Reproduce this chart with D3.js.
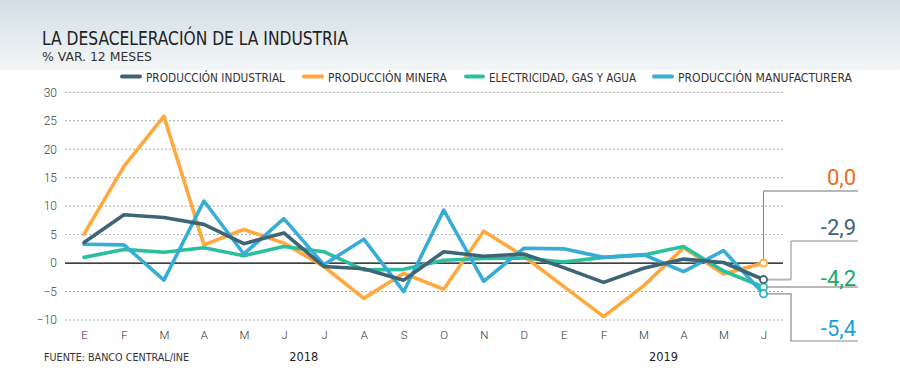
<!DOCTYPE html>
<html>
<head>
<meta charset="utf-8">
<title>La desaceleración de la industria</title>
<script src="https://cdn.jsdelivr.net/npm/d3@7"></script>
<style>
body { margin: 0; background: #fff; }
svg { display: block; font-family: "DejaVu Sans Condensed", Roboto, sans-serif; }
</style>
</head>
<body>
<svg id="chart"></svg>
<script>
// datos: % var. 12 meses, ene 2018 - jun 2019
var months = ["E","F","M","A","M","J","J","A","S","O","N","D","E","F","M","A","M","J"];
var years = ["2018", "2019"];
var yTicks = [30, 25, 20, 15, 10, 5, 0, -5, -10];

var industrial    = [3.6, 8.5, 8.0, 6.8, 3.4, 5.3, -0.6, -1.0, -3.0, 2.0, 1.2, 1.6, -0.8, -3.4, -0.9, 0.7, 0.1, -2.9];
var minera        = [5.1, 17.0, 25.8, 3.2, 5.9, 3.5, -0.6, -6.2, -1.8, -4.6, 5.6, 1.2, -4.1, -9.4, -4.0, 2.7, -1.9, 0.0];
var electricidad  = [1.0, 2.4, 1.9, 2.7, 1.3, 2.9, 2.0, -1.2, -1.1, 0.5, 0.8, 0.9, 0.2, 1.0, 1.4, 2.9, -1.4, -4.2];
var manufacturera = [3.3, 3.2, -3.0, 10.9, 1.6, 7.8, -0.3, 4.2, -5.0, 9.3, -3.2, 2.6, 2.5, 1.0, 1.5, -1.5, 2.2, -5.4];

var seriesNames = ["PRODUCCIÓN INDUSTRIAL", "PRODUCCIÓN MINERA", "ELECTRICIDAD, GAS Y AGUA", "PRODUCCIÓN MANUFACTURERA"];
var seriesValues = [industrial, minera, electricidad, manufacturera];
var lineColors = ["#3d6577", "#ffa83c", "#2bbf9d", "#37acd7"];
var labelColors = ["#3c6478", "#f36b22", "#17a96b", "#18a1d9"];
var lastLabels = ["-2,9", "0,0", "-4,2", "-5,4"];

var w = 900, h = 390;

var svg = d3.select("#chart").attr("width", w).attr("height", h);

// fondo degradado de la cabecera
var defs = svg.append("defs");
var grad = defs.append("linearGradient").attr("id", "head").attr("x1", 0).attr("y1", 0).attr("x2", 0).attr("y2", 1);
grad.append("stop").attr("offset", "0%").attr("stop-color", "#d3dee4");
grad.append("stop").attr("offset", "100%").attr("stop-color", "#f3f6f7");
svg.append("rect").attr("width", w).attr("height", 70).attr("fill", "url(#head)");

// titulo
svg.append("text").attr("x", 42).attr("y", 45)
	.attr("font-size", 19).attr("fill", "#222")
	.attr("textLength", 306).attr("lengthAdjust", "spacingAndGlyphs")
	.text("LA DESACELERACIÓN DE LA INDUSTRIA");
svg.append("text").attr("x", 42).attr("y", 60.5)
	.attr("font-size", 12.5).attr("fill", "#333")
	.attr("textLength", 110).attr("lengthAdjust", "spacingAndGlyphs")
	.text("% VAR. 12 MESES");

// leyenda
var legendPos = [[120, 146, 139], [302, 328, 119], [464, 489, 147], [652, 678, 174]];
var legend = svg.append("g");
seriesNames.forEach(function(name, i) {
	var p = legendPos[i];
	legend.append("line")
		.attr("x1", p[0] + 2).attr("x2", p[1] - 6)
		.attr("y1", 76.5).attr("y2", 76.5)
		.attr("stroke", lineColors[i]).attr("stroke-width", 4).attr("stroke-linecap", "round");
	legend.append("text").attr("x", p[1]).attr("y", 81.5)
		.attr("font-size", 12.5).attr("fill", "#333")
		.attr("textLength", p[2]).attr("lengthAdjust", "spacingAndGlyphs")
		.text(name);
});

// escalas
var x = d3.scaleLinear().domain([0, months.length - 1]).range([84, 763.5]);
var y = d3.scaleLinear().domain([-10, 30]).range([320, 92.3]);

// grilla
var grid = svg.append("g");
grid.selectAll("line").data(yTicks.filter(function(d) { return d !== 0; }))
	.enter().append("line")
	.attr("x1", 65).attr("x2", 783)
	.attr("y1", function(d) { return y(d); }).attr("y2", function(d) { return y(d); })
	.attr("stroke", "#aaa").attr("stroke-width", 1).attr("stroke-dasharray", "2,2");
svg.append("line")
	.attr("x1", 65).attr("x2", 783).attr("y1", y(0)).attr("y2", y(0))
	.attr("stroke", "#000").attr("stroke-width", 1.2);

// eje y
var yAxis = svg.append("g").attr("transform", "translate(57,0)")
	.call(d3.axisLeft(y).tickValues(yTicks).tickSize(0).tickPadding(0));
yAxis.select(".domain").remove();
yAxis.selectAll("text").attr("font-size", 12).attr("fill", "#444")
	.attr("font-family", "Roboto, sans-serif").attr("font-weight", 300);

// eje x
var xAxis = svg.append("g").attr("transform", "translate(0,331)")
	.call(d3.axisBottom(x).tickValues(d3.range(months.length)).tickFormat(function(i) { return months[i]; }).tickSize(0).tickPadding(0));
xAxis.select(".domain").remove();
xAxis.selectAll("text").attr("font-size", 11.5).attr("fill", "#333")
	.attr("font-family", "Roboto, sans-serif").attr("font-weight", 300).attr("dy", "0.71em");

// años
svg.append("text").attr("x", (x(5) + x(6)) / 2).attr("y", 361).attr("text-anchor", "middle")
	.attr("font-size", 13).attr("fill", "#222").attr("textLength", 29).attr("lengthAdjust", "spacingAndGlyphs").text(years[0]);
svg.append("text").attr("x", (x(14) + x(15)) / 2).attr("y", 361).attr("text-anchor", "middle")
	.attr("font-size", 13).attr("fill", "#222").attr("textLength", 29).attr("lengthAdjust", "spacingAndGlyphs").text(years[1]);

// fuente
svg.append("text").attr("x", 44).attr("y", 361)
	.attr("font-size", 10.5).attr("fill", "#333")
	.attr("textLength", 145).attr("lengthAdjust", "spacingAndGlyphs")
	.text("FUENTE: BANCO CENTRAL/INE");

// lineas
var line = d3.line()
	.x(function(d, i) { return x(i); })
	.y(function(d) { return y(d); });

var order = [1, 2, 3, 0];
var lines = svg.append("g");
order.forEach(function(k) {
	lines.append("path").datum(seriesValues[k])
		.attr("d", line)
		.attr("fill", "none")
		.attr("stroke", lineColors[k])
		.attr("stroke-width", 3.6)
		.attr("stroke-linejoin", "round")
		.attr("stroke-linecap", "round");
});

// conectores de anotacion
var last = months.length - 1;
var mx = x(last);
var ann = svg.append("g").attr("fill", "none");
var lightGray = "#b8b8b8", darkGray = "#8a8a8a";

// 0,0 minera
ann.append("path").attr("d", "M" + mx + "," + y(minera[last]) + "V191").attr("stroke", darkGray).attr("stroke-width", 1);
ann.append("path").attr("d", "M" + mx + ",191H858").attr("stroke", lightGray).attr("stroke-width", 2);
// -2,9 industrial
ann.append("path").attr("d", "M" + mx + "," + y(industrial[last]) + "H791").attr("stroke", lightGray).attr("stroke-width", 2);
ann.append("path").attr("d", "M791," + y(industrial[last]) + "V241").attr("stroke", darkGray).attr("stroke-width", 1);
ann.append("path").attr("d", "M791,241H858").attr("stroke", darkGray).attr("stroke-width", 1.2);
// -4,2 electricidad
ann.append("path").attr("d", "M" + mx + "," + y(electricidad[last]) + "H858").attr("stroke", lightGray).attr("stroke-width", 2);
// -5,4 manufacturera
ann.append("path").attr("d", "M" + mx + "," + y(manufacturera[last]) + "H791V341H858").attr("stroke", darkGray).attr("stroke-width", 1.2);

// marcadores
var markers = svg.append("g");
order.forEach(function(k) {
	markers.append("circle")
		.attr("cx", mx).attr("cy", y(seriesValues[k][last]))
		.attr("r", 3.6)
		.attr("fill", "#fff")
		.attr("stroke", lineColors[k])
		.attr("stroke-width", 1.8);
});

// etiquetas de valores finales
var labelY = [235, 185, 286, 336];
lastLabels.forEach(function(t, i) {
	svg.append("text").attr("x", 856).attr("y", labelY[i])
		.attr("text-anchor", "end")
		.attr("font-size", 22).attr("fill", labelColors[i])
		.attr("font-family", "Roboto, sans-serif")
		.text(t);
});
</script>
</body>
</html>
